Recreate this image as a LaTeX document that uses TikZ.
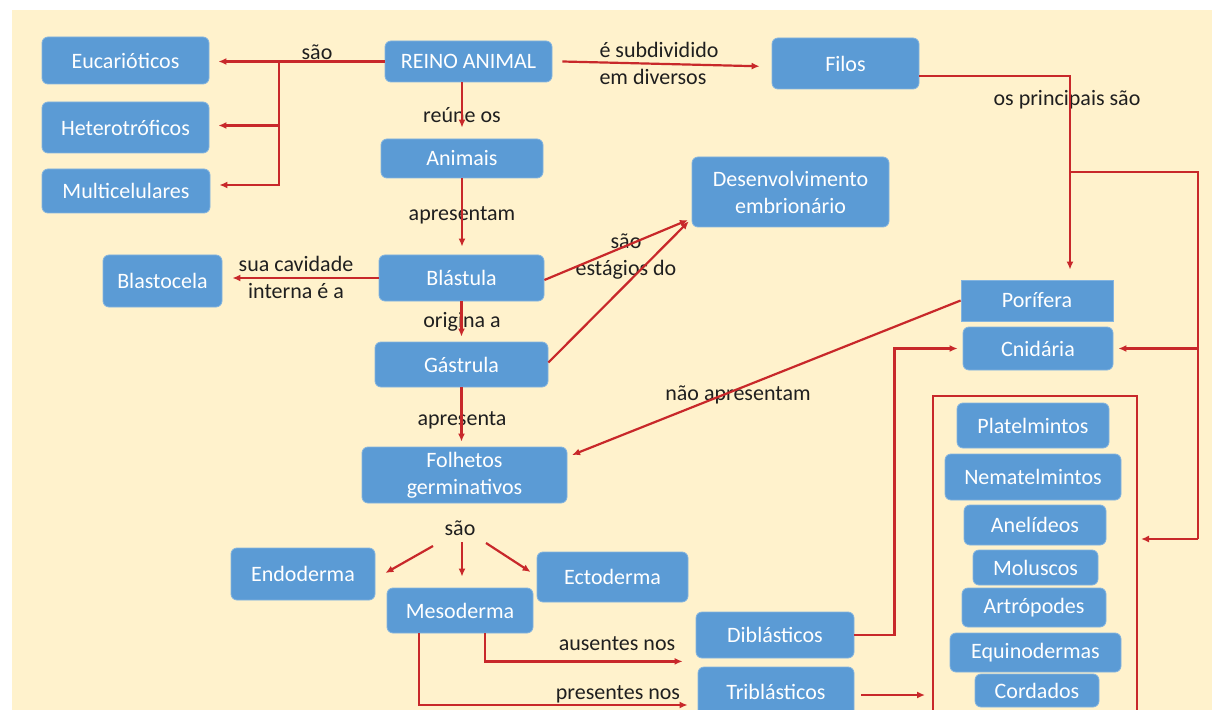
\documentclass[tikz,border=0pt]{standalone}
\usepackage{fontspec}
\setmainfont{Carlito}
\usetikzlibrary{arrows.meta,calc}
\definecolor{cream}{HTML}{FFF2CC}
\definecolor{boxblue}{HTML}{5B9BD5}
\definecolor{arrred}{HTML}{C8282A}
\begin{document}
\begin{tikzpicture}[x=1pt,y=-1pt,
  box/.style={rectangle, rounded corners=6pt, fill=boxblue, draw=boxblue!75!white, line width=0.8pt,
    text=white, font=\fontsize{22}{27}\selectfont, align=center, inner sep=0pt},
  sqbox/.style={box, rounded corners=0pt},
  lbl/.style={font=\fontsize{22}{27}\selectfont, text=black!88, align=center, inner sep=0pt},
  ln/.style={draw=arrred, line width=2.2pt},
  arr/.style={ln, -{Latex[length=8pt,width=7pt]}}]
\useasboundingbox (0,0) rectangle (1212,719);
\fill[white] (0,0) rectangle (1212,719);
\fill[cream] (12,10) rectangle (1212,710);

% boxes
\node[box, minimum width=167pt, minimum height=47pt] (euc) at (125.5,60.5) {Eucarióticos};
\node[box, minimum width=167pt, minimum height=51pt] (het) at (125.5,127.5) {Heterotróficos};
\node[box, minimum width=168pt, minimum height=44pt] (mul) at (126,191) {Multicelulares};
\node[box, minimum width=167pt, minimum height=41pt] (reino) at (468.5,61.5) {REINO ANIMAL};
\node[box, minimum width=162pt, minimum height=39pt] (anim) at (462,158.5) {Animais};
\node[box, minimum width=165pt, minimum height=46pt] (blas) at (461.5,278) {Blástula};
\node[box, minimum width=119pt, minimum height=52pt] (blc) at (162.5,281) {Blastocela};
\node[box, minimum width=173pt, minimum height=45pt] (gas) at (461.5,364.5) {Gástrula};
\node[box, minimum width=205pt, minimum height=56pt] (fol) at (464.5,475) {Folhetos\\germinativos};
\node[box, minimum width=144pt, minimum height=52pt] (endo) at (303,574) {Endoderma};
\node[box, minimum width=146pt, minimum height=45pt] (meso) at (460,610.5) {Mesoderma};
\node[box, minimum width=151pt, minimum height=50pt] (ecto) at (612.5,577) {Ectoderma};
\node[box, minimum width=197pt, minimum height=70pt] (dese) at (790.5,192) {Desenvolvimento\\embrionário};
\node[box, minimum width=147pt, minimum height=51pt] (filos) at (845.5,63.5) {Filos};
\node[sqbox, minimum width=152pt, minimum height=41pt] (pori) at (1037,300.5) {Porífera};
\node[box, minimum width=150pt, minimum height=43pt] (cni) at (1038,348.5) {Cnidária};
\node[box, minimum width=152pt, minimum height=45pt] (plat) at (1033,425.5) {Platelmintos};
\node[box, minimum width=176pt, minimum height=46pt] (nema) at (1033,477) {Nematelmintos};
\node[box, minimum width=142pt, minimum height=40pt] (anel) at (1035,525) {Anelídeos};
\node[box, minimum width=125pt, minimum height=35pt] (molu) at (1035.5,567.5) {Moluscos};
\node[box, minimum width=144pt, minimum height=39pt] (artr) at (1034,607.5) {Artrópodes};
\node[box, minimum width=171pt, minimum height=39pt] (equi) at (1035.5,652.5) {Equinodermas};
\node[box, minimum width=124pt, minimum height=33pt] (cord) at (1037,690.5) {Cordados};
\node[box, minimum width=158pt, minimum height=46pt] (dibl) at (775,635) {Diblásticos};
\node[box, minimum width=156pt, minimum height=50pt] (tribl) at (776,692) {Triblásticos};

% labels
\node[lbl] (l1) at (317,52) {são};
\node[lbl, align=left] (l2) at (659,63) {é subdividido\\em diversos};
\node[lbl] (l3) at (462,115) {reúne os};
\node[lbl] (l4) at (462,215) {apresentam};
\node[lbl] (l5) at (296,277) {sua cavidade\\interna é a};
\node[lbl] (l6) at (462,322) {origina a};
\node[lbl] (l7) at (626,257) {são\\estágios do};
\node[lbl] (l8) at (462,420) {apresenta};
\node[lbl] (l9) at (738,395) {não apresentam};
\node[lbl] (sao3) at (460,528) {são};
\node[lbl] (l10) at (1067,100) {os principais são};
\node[lbl] (l11) at (617,644) {ausentes nos};
\node[lbl] (l12) at (618,694) {presentes nos};

% frame
\coordinate (frTL) at (933,396);
\coordinate (frTR) at (1137,396);
\draw[ln] (frTL |- 0,719) -- (frTL) -- (frTR) -- (frTR |- 0,719);

% connectors
\draw[arr, shorten >=9pt] (reino.west) -- (reino.west -| euc.east);
\coordinate (j1) at (279,61.5);
\draw[arr, shorten >=9pt] (j1) |- ($(het.east)+(0,-2)$);
\draw[arr, shorten >=9pt] (j1) |- ($(mul.east)+(0,-6)$);

\draw[arr, shorten >=9pt] ($(reino.east)+(10,0)$) -- ($(filos.west)+(-3,3)$);
\draw[arr, shorten >=11pt] (reino.south -| anim.north) -- (anim.north);
\draw[arr, shorten >=8pt] (anim.south) -- (anim.south |- blas.north);
\draw[arr, shorten >=10pt] (blas.west) -- (blas.west -| blc.east);
\draw[arr, shorten >=5pt] (blas.south) -- (blas.south |- gas.north);
\draw[arr, shorten >=4pt] ($(blas.east)+(0,2)$) -- (dese.195);
\draw[arr, shorten >=4pt] ($(gas.east)+(0,-2)$) -- (dese.195);
\draw[arr, shorten >=5pt] (gas.south) -- (gas.south |- fol.north);
\draw[arr, shorten >=5pt] (pori.west) -- (fol.10);

\draw[arr] ($(sao3)+(-27,18)$) -- ($(endo.east)+(10,-1)$);
\draw[arr] ($(sao3)+(2,14)$) -- ($(meso.north)+(2,-11)$);
\draw[arr] ($(sao3)+(26,15)$) -- ($(ecto.west)+(-6,-5)$);

\coordinate (fA) at (1070,76);
\draw[arr, shorten >=10pt] ($(filos.east)+(0,12.5)$) -- (fA) -- (fA |- pori.north);
\coordinate (fB) at (1070,172);
\coordinate (fC) at (1198,172);
\coordinate (fD) at (1198,539);
\draw[ln] (fB) -- (fC) -- (fD);
\draw[arr, shorten >=5pt] (fC |- cni.east) -- (cni.east);
\draw[arr, shorten >=4pt] (fD) -- (fD -| frTR);

\draw[arr, shorten >=5pt] (dibl.east) -- ++(40,0) |- (cni.west);
\coordinate (t1) at ($(tribl.east)+(7,3)$);
\draw[arr, shorten >=8pt] (t1) -- (t1 -| frTL);

\draw[arr] ($(meso.south)+(25,0)$) |- ($(dibl.south west)+(-13,3)$);
\draw[arr] ($(meso.south)+(-41,0)$) |- ($(tribl.west)+(-10,13)$);

\fill[white] (0,710) rectangle (1212,719);
\end{tikzpicture}
\end{document}
